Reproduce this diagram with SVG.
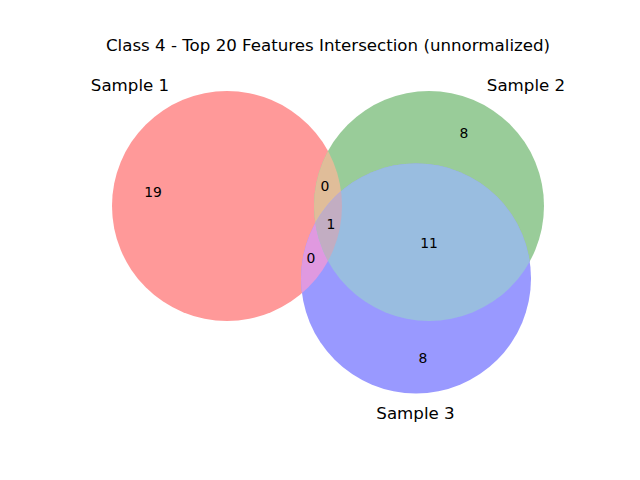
<svg xmlns="http://www.w3.org/2000/svg" width="640" height="480" viewBox="0 0 640 480">
<style>
text{font-family:"DejaVu Sans",sans-serif;fill:#000;}
.title{font-size:16.67px;text-anchor:middle;}
.set{font-size:16.67px;text-anchor:middle;}
.num{font-size:13.9px;text-anchor:middle;}
</style>
<defs>
<clipPath id="clipA"><circle cx="227" cy="206" r="115"/></clipPath>
<clipPath id="clipB"><circle cx="429" cy="206" r="115"/></clipPath>
</defs>
<rect width="640" height="480" fill="#fff"/>
<text class="title" x="328" y="51">Class 4 - Top 20 Features Intersection (unnormalized)</text>
<g id="regions">
<g id="region-100"><circle cx="227" cy="206" r="115" fill="#ff9999"/></g>
<g id="region-010"><circle cx="429" cy="206" r="115" fill="#99cc99"/></g>
<g id="region-001"><circle cx="416" cy="278.4" r="115" fill="#9999ff"/></g>
<g id="region-110"><circle cx="429" cy="206" r="115" fill="#e0bd99" clip-path="url(#clipA)"/></g>
<g id="region-101"><circle cx="416" cy="278.4" r="115" fill="#e099e0" clip-path="url(#clipA)"/></g>
<g id="region-011"><circle cx="416" cy="278.4" r="115" fill="#99bde0" clip-path="url(#clipB)"/></g>
<g id="region-111" clip-path="url(#clipA)"><circle cx="416" cy="278.4" r="115" fill="#c2adc2" clip-path="url(#clipB)"/></g>
</g>
<g id="labels">
<text class="num" x="153" y="197">19</text>
<text class="num" x="464" y="138">8</text>
<text class="num" x="325" y="191">0</text>
<text class="num" x="331" y="229">1</text>
<text class="num" x="429" y="248">11</text>
<text class="num" x="311" y="263">0</text>
<text class="num" x="423" y="363">8</text>
</g>
<g id="set-1"><text class="set" x="130" y="91">Sample 1</text></g>
<g id="set-2"><text class="set" x="526" y="91">Sample 2</text></g>
<g id="set-3"><text class="set" x="415.5" y="419">Sample 3</text></g>
<g id="connectors"/>
</svg>
